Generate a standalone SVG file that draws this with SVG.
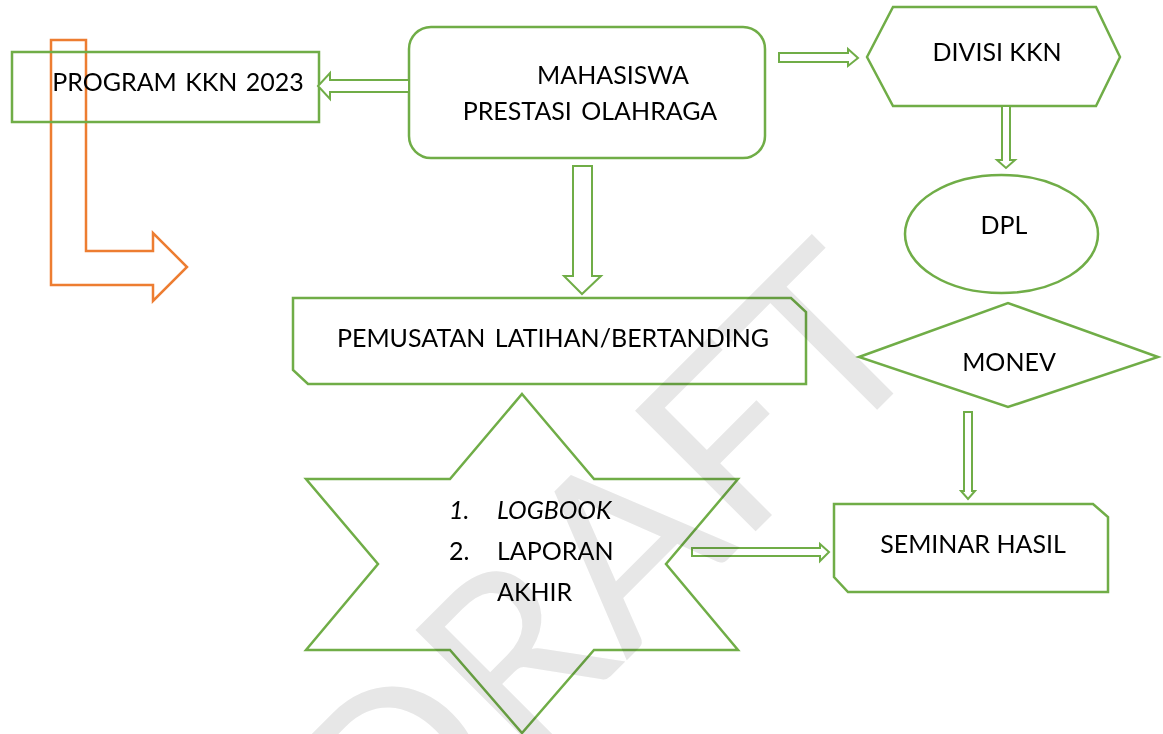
<svg xmlns="http://www.w3.org/2000/svg" width="1163" height="734" viewBox="0 0 1163 734">
<style>
.s{fill:none;stroke:#70AD47;stroke-width:2.5;stroke-linejoin:miter}
.a{fill:#fff;stroke:#70AD47;stroke-width:2}
.t{font-family:Lato,"Liberation Sans",sans-serif;font-size:25px;fill:#000}
.m{text-anchor:middle}
.i{font-style:italic}
</style>
<rect width="1163" height="734" fill="#fff"/>
<g id="orange-arrow">
<polygon points="51,40 86,40 86,251 153,251 153,233 187,267 153,301 153,285 51,285" fill="none" stroke="#ED7D31" stroke-width="2.5"/>
</g>
<g id="program-kkn">
<rect class="s" x="12" y="52" width="307" height="70"/>
<text class="t m" x="178" y="91" word-spacing="2">PROGRAM KKN 2023</text>
</g>
<g id="mahasiswa">
<rect class="s" x="409" y="27" width="356" height="131" rx="22"/>
<text class="t m" x="613" y="84">MAHASISWA</text>
<text class="t m" x="590" y="120" word-spacing="3">PRESTASI OLAHRAGA</text>
</g>
<g id="divisi-kkn">
<polygon class="s" points="867,57 893,7 1096,7 1120,57 1096,106 893,106"/>
<text class="t m" x="997" y="61">DIVISI KKN</text>
</g>
<g id="dpl">
<ellipse class="s" cx="1001.5" cy="234" rx="96.5" ry="59"/>
<text class="t m" x="1004" y="234">DPL</text>
</g>
<g id="monev">
<polygon class="s" points="859,357 1008,303 1158,357 1008,407"/>
<text class="t m" x="1009" y="371">MONEV</text>
</g>
<g id="pemusatan">
<polygon class="s" points="293,298 791,298 806,312 806,384 308,384 293,370"/>
<text class="t m" x="553" y="347" word-spacing="3">PEMUSATAN LATIHAN/BERTANDING</text>
</g>
<g id="laporan-star">
<polygon class="s" points="522,394 594,479 738,479 666,564 738,650 594,650 522,733 450,650 306,650 378,564 306,479 450,479"/>
<text class="t i" x="449" y="519">1.</text>
<text class="t i" x="497" y="519">LOGBOOK</text>
<text class="t" x="449" y="560">2.</text>
<text class="t" x="497" y="560">LAPORAN</text>
<text class="t" x="497" y="601">AKHIR</text>
</g>
<g id="seminar-hasil">
<polygon class="s" points="834,504 1093,504 1108,517 1108,592 848,592 834,577"/>
<text class="t m" x="973" y="553">SEMINAR HASIL</text>
</g>
<g id="connectors">
<polygon class="a" points="409,80 330,80 330,73 318,86 330,99 330,92 409,92"/>
<polygon class="a" points="779,53 848,53 848,49 858,58 848,66 848,62 779,62"/>
<polygon class="a" points="573,166 592,166 592,276 601,276 582,294 564,276 573,276"/>
<polygon class="a" points="1002,106 1010,106 1010,160 1015,160 1006,168 997,160 1002,160"/>
<polygon class="a" points="964,412 972,412 972,491 975,491 968,499 961,491 964,491"/>
<polygon class="a" points="692,548 820,548 820,544 829,552 820,561 820,556 692,556"/>
</g>
<text transform="rotate(-45)" x="412" y="910" text-anchor="end" font-family="Lato,'Liberation Sans',sans-serif" font-size="238" fill="#e7e7e7" style="mix-blend-mode:multiply">DRAFT</text>
</svg>
